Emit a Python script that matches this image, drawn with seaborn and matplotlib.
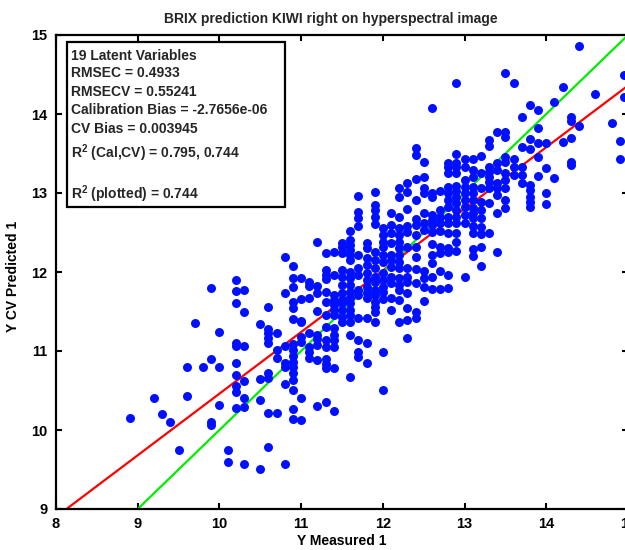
import numpy as np
import pandas as pd
import seaborn as sns
import matplotlib.pyplot as plt
from matplotlib.patches import Rectangle

# measured BRIX levels (x columns) and the CV predictions read at each level
measured_levels = [8.9, 9.2, 9.3, 9.4, 9.5, 9.6, 9.7, 9.8, 9.9, 10.0,
                   10.1, 10.2, 10.3, 10.5, 10.6, 10.7, 10.8, 10.9, 11.0, 11.1,
                   11.2, 11.3, 11.4, 11.5, 11.6, 11.7, 11.8, 11.9, 12.0, 12.1,
                   12.2, 12.3, 12.4, 12.5, 12.6, 12.7, 12.8, 12.9, 13.0, 13.1,
                   13.2, 13.3, 13.4, 13.5, 13.6, 13.7, 13.8, 13.9, 14.0, 14.1,
                   14.2, 14.3, 14.4, 14.6, 14.8, 14.9, 14.95]

predicted_by_level = [
    [10.15],
    [10.40],
    [10.20],
    [10.10],
    [9.75],
    [10.80, 10.43],
    [11.35],
    [10.80],
    [11.80, 10.90, 10.10, 10.06],
    [11.24, 10.80, 10.32],
    [9.75, 9.59],
    [11.90, 11.76, 11.61, 11.10, 11.06, 10.85, 10.70, 10.56, 10.48, 10.28],
    [11.77, 11.49, 11.06, 10.62, 10.40, 10.29, 9.57],
    [11.34, 10.65, 10.38, 9.51],
    [11.56, 11.28, 11.23, 11.16, 11.10, 10.72, 10.66, 10.22, 9.78],
    [11.23, 11.01, 10.91, 10.22],
    [12.19, 11.73, 11.06, 10.85, 10.80, 10.58, 9.57],
    [12.08, 11.92, 11.81, 11.62, 11.54, 11.41, 11.09, 11.01, 10.94, 10.86,
     10.80, 10.72, 10.63, 10.51, 10.27, 10.14],
    [11.92, 11.66, 11.38, 11.37, 11.18, 11.11, 10.41, 10.13],
    [11.87, 11.82, 11.67, 11.23, 11.05, 10.99, 10.91],
    [12.38, 11.82, 11.73, 11.51, 11.20, 11.15, 11.08, 10.89, 10.30],
    [12.24, 12.03, 11.96, 11.91, 11.75, 11.62, 11.46, 11.30, 11.14, 11.05,
     10.90, 10.84, 10.78, 10.35],
    [12.25, 11.96, 11.71, 11.65, 11.58, 11.52, 11.46, 11.29, 11.20, 11.14,
     11.05, 10.78, 10.24],
    [12.37, 12.32, 12.24, 12.03, 11.94, 11.84, 11.73, 11.65, 11.61, 11.52,
     11.43, 11.37],
    [12.52, 12.41, 12.34, 12.28, 12.22, 12.15, 12.00, 11.92, 11.84, 11.75,
     11.67, 11.61, 11.52, 11.46, 11.37, 11.20, 10.67],
    [12.96, 12.76, 12.68, 12.58, 12.22, 12.05, 11.96, 11.77, 11.71, 11.42,
     11.14, 10.99, 10.93],
    [12.37, 12.30, 12.18, 12.09, 11.99, 11.90, 11.81, 11.73, 11.67, 11.42,
     11.10, 10.85],
    [13.01, 12.85, 12.78, 12.70, 12.61, 12.25, 12.15, 12.05, 11.94, 11.87,
     11.77, 11.71, 11.62, 11.56, 11.49, 11.37],
    [12.56, 12.47, 12.38, 12.32, 12.22, 12.13, 11.99, 11.90, 11.81, 11.75,
     11.66, 10.99, 10.51],
    [12.75, 12.59, 12.49, 12.37, 12.22, 12.15, 12.06, 11.94, 11.86, 11.67,
     11.52],
    [13.06, 12.95, 12.70, 12.56, 12.47, 12.38, 12.30, 12.22, 12.13, 12.05,
     11.92, 11.84, 11.77, 11.65, 11.37],
    [13.13, 13.01, 12.80, 12.58, 12.51, 12.32, 12.05, 11.94, 11.87, 11.73,
     11.54, 11.39, 11.16],
    [13.57, 13.48, 13.18, 12.91, 12.67, 12.59, 12.47, 12.32, 12.19, 12.04,
     11.86, 11.49, 11.42],
    [13.39, 13.20, 13.06, 13.00, 12.75, 12.62, 12.53, 12.01, 11.92, 11.81,
     11.63],
    [14.08, 13.00, 12.95, 12.72, 12.66, 12.59, 12.51, 12.35, 12.22, 12.11,
     11.94, 11.78],
    [13.03, 12.78, 12.70, 12.62, 12.52, 12.32, 12.24, 12.01, 11.78],
    [13.38, 13.33, 13.25, 13.08, 13.00, 12.91, 12.82, 12.70, 12.62, 12.49,
     12.30, 12.25, 11.96, 11.80],
    [14.39, 13.49, 13.38, 13.33, 13.25, 13.09, 13.03, 12.95, 12.87, 12.78,
     12.70, 12.62, 12.49, 12.38, 12.27],
    [13.43, 13.33, 13.16, 13.08, 13.00, 12.91, 12.82, 12.72, 12.62, 11.94],
    [13.43, 13.29, 13.20, 13.08, 13.00, 12.91, 12.81, 12.75, 12.68, 12.58,
     12.49, 12.29, 12.20],
    [13.47, 13.25, 13.06, 12.89, 12.78, 12.68, 12.57, 12.48, 12.32, 12.08],
    [13.67, 13.59, 13.33, 13.27, 13.20, 13.14, 13.06, 12.87, 12.49],
    [13.77, 13.38, 13.29, 13.13, 13.06, 12.97, 12.75, 12.25],
    [14.52, 13.77, 13.71, 13.46, 13.39, 13.25, 13.16, 13.06, 12.91, 12.81],
    [14.39, 13.43, 13.33, 13.23],
    [13.96, 13.58, 13.33, 13.23, 13.13],
    [14.11, 13.68, 13.56, 13.10, 13.04, 12.95, 12.89, 12.82],
    [14.05, 13.82, 13.63, 13.46, 13.22],
    [13.63, 13.32, 13.00, 12.86],
    [14.15, 13.19],
    [14.34, 13.65],
    [13.96, 13.91, 13.70, 13.39, 13.35],
    [14.86, 13.85],
    [14.25],
    [13.89],
    [13.66, 13.43],
    [14.49, 14.22],
]

# regression line of predicted on measured (red)
fit_slope = 0.78
fit_intercept = 2.66

x_ticks = [8, 9, 10, 11, 12, 13, 14, 15]
y_ticks = [9, 10, 11, 12, 13, 14, 15]

stats_lines = ['19 Latent Variables',
               'RMSEC = 0.4933',
               'RMSECV = 0.55241',
               'Calibration Bias = -2.7656e-06',
               'CV Bias = 0.003945',
               'R$^2$ (Cal,CV) = 0.795, 0.744',
               'R$^2$ (plotted) = 0.744']
stats_y = [0.956, 0.919, 0.880, 0.842, 0.802, 0.751, 0.664]

rows = [(m, p) for m, ps in zip(measured_levels, predicted_by_level) for p in ps]
df = pd.DataFrame(rows, columns=['measured', 'predicted'])

sns.set_theme(style='ticks')
plt.rcParams['font.family'] = ['Liberation Sans', 'DejaVu Sans']
plt.rcParams['mathtext.fontset'] = 'custom'
plt.rcParams['mathtext.rm'] = 'Liberation Sans:bold'
plt.rcParams['mathtext.it'] = 'Liberation Sans:bold'
plt.rcParams['mathtext.bf'] = 'Liberation Sans:bold'

fig = plt.figure(figsize=(6.25, 5.5), dpi=100)
ax = fig.add_axes([56 / 625, 41 / 550, 572 / 625, 474 / 550])

xs = np.array([8.0, 15.0])
ax.plot(xs, fit_intercept + fit_slope * xs, color='#ff0000', lw=1.6, zorder=2)
ax.plot(xs, xs, color='#00ee00', lw=1.6, zorder=2)

sns.scatterplot(data=df, x='measured', y='predicted', color='#0010ff',
                s=42, linewidth=0, ax=ax, zorder=3)

ax.set_xlim(8, 15)
ax.set_ylim(9, 15)
ax.set_xticks(x_ticks)
ax.set_yticks(y_ticks)
ax.tick_params(direction='in', length=4, width=1.5, top=True, right=True,
               labelsize=10.5, pad=6, colors='black')
for lab in ax.get_xticklabels() + ax.get_yticklabels():
    lab.set_fontweight('bold')
for sp in ax.spines.values():
    sp.set_linewidth(1.6)
    sp.set_color('black')

ax.set_xlabel('Y Measured 1', fontsize=10, fontweight='bold', color='black')
ax.set_ylabel('Y CV Predicted 1', fontsize=10, fontweight='bold', color='black')
ax.xaxis.set_label_coords(0.5, -0.068)
ax.xaxis.label.set_verticalalignment('center')
ax.yaxis.set_label_coords(-0.076, 0.49)
ax.yaxis.label.set_verticalalignment('center')
ax.set_title('BRIX prediction KIWI right on hyperspectral image',
             fontsize=10, fontweight='bold', x=0.481, pad=9)

ax.add_patch(Rectangle((0.0192, 0.6371), 0.381, 0.3481, transform=ax.transAxes,
                       facecolor='white', edgecolor='black', lw=1.6, zorder=4))
for txt, yy in zip(stats_lines, stats_y):
    ax.text(0.0257, yy, txt, transform=ax.transAxes, fontsize=10,
            fontweight='bold', va='center', ha='left', zorder=5)

fig.savefig('out.png', dpi=100)
